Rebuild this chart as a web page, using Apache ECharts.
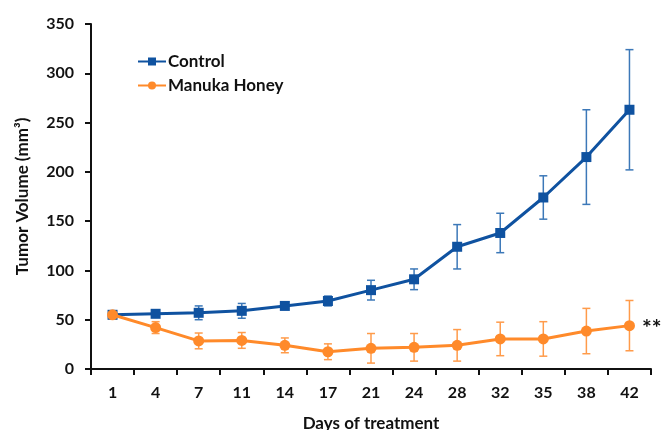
<!DOCTYPE html>
<html>
<head>
<meta charset="utf-8">
<script src="https://cdn.jsdelivr.net/npm/echarts@6/dist/echarts.min.js"></script>
<style>
  html, body { margin: 0; padding: 0; background: #fff; }
  #chart { width: 665px; height: 430px; }
</style>
</head>
<body>
<div id="chart"></div>
<script>
var days = ['1', '4', '7', '11', '14', '17', '21', '24', '28', '32', '35', '38', '42'];
var control = [55, 56, 57, 59, 64, 69, 80, 91, 124, 138, 174, 215, 263];
var control_err = [2, 3, 7, 7.5, 3, 5, 10, 10.5, 22.5, 20, 22, 48, 61];
var manuka = [55, 42, 28.5, 29, 24, 17.5, 21, 22, 24, 30.5, 30.5, 38.5, 44];
var manuka_err = [2, 6, 8, 8, 7.5, 8, 15, 14, 16, 17, 17.5, 23, 25.5];

var blue = '#0F52A0';
var orange = '#FF8A2A';
var font = 'Lato';

function err_data(vals, errs){
  var out = [];
  for(var i=0;i<vals.length;i++){
    out.push([i, vals[i] - errs[i], vals[i] + errs[i]]);
  }
  return out;
}

function err_series(name, vals, errs, color){
  return {
    name: name,
    type: 'custom',
    data: err_data(vals, errs),
    z: 1,
    silent: true,
    renderItem: function(params, api){
      var lo = api.coord([api.value(0), api.value(1)]);
      var hi = api.coord([api.value(0), api.value(2)]);
      var w = 4;
      var st = {stroke: color, lineWidth: 1.5};
      return {
        type: 'group',
        children: [
          {type: 'line', shape: {x1: hi[0], y1: hi[1], x2: lo[0], y2: lo[1]}, style: st},
          {type: 'line', shape: {x1: hi[0]-w, y1: hi[1], x2: hi[0]+w, y2: hi[1]}, style: st},
          {type: 'line', shape: {x1: lo[0]-w, y1: lo[1], x2: lo[0]+w, y2: lo[1]}, style: st}
        ]
      };
    }
  };
}

// last manuka point carries the significance mark
var manuka_data = manuka.slice(0, -1);
manuka_data.push({
  value: manuka[manuka.length-1],
  label: {show: true, formatter: '**', position: 'right', distance: 7,
          color: '#111', fontSize: 23, fontWeight: 'bold', fontFamily: font, offset: [0, 3]}
});

var myChart = echarts.init(document.getElementById('chart'));
option = {
  animation: false,
  textStyle: {fontFamily: font},
  grid: {left: 91, right: 14, top: 24, bottom: 61, outerBoundsMode: 'none'},
  legend: {
    data: ['Control', 'Manuka Honey'],
    orient: 'vertical',
    left: 137,
    top: 53,
    padding: 0,
    itemWidth: 28,
    itemHeight: 10,
    itemGap: 7,
    textStyle: {fontSize: 17, fontWeight: 'bold', color: '#111', fontFamily: font, padding: [0, 0, 0, -3]}
  },
  xAxis: {
    type: 'category',
    data: days,
    boundaryGap: true,
    name: 'Days of treatment',
    nameLocation: 'middle',
    nameGap: 46,
    nameTextStyle: {fontSize: 17, fontWeight: 'bold', color: '#111', fontFamily: font},
    axisLine: {lineStyle: {color: '#111', width: 2}},
    axisTick: {show: true, length: 6, inside: false, lineStyle: {color: '#111', width: 2}},
    axisLabel: {fontSize: 16, fontWeight: 'bold', color: '#111', margin: 16, fontFamily: font},
    splitLine: {show: false}
  },
  yAxis: {
    type: 'value',
    min: 0,
    max: 350,
    interval: 50,
    name: 'Tumor Volume (mm\u00b3)',
    nameLocation: 'middle',
    nameGap: 60,
    nameRotate: 90,
    nameTextStyle: {fontSize: 17, fontWeight: 'bold', color: '#111', fontFamily: font},
    axisLine: {show: true, lineStyle: {color: '#111', width: 2}},
    axisTick: {show: true, length: 6, lineStyle: {color: '#111', width: 2}},
    axisLabel: {fontSize: 16, fontWeight: 'bold', color: '#111', margin: 17, fontFamily: font},
    splitLine: {show: false}
  },
  series: [
    err_series('Control err', control, control_err, '#3C78B8'),
    err_series('Manuka err', manuka, manuka_err, '#FF9B4A'),
    {
      name: 'Control',
      type: 'line',
      data: control,
      symbol: 'rect',
      symbolSize: 10,
      z: 3,
      itemStyle: {color: blue},
      lineStyle: {color: blue, width: 3}
    },
    {
      name: 'Manuka Honey',
      type: 'line',
      data: manuka_data,
      symbol: 'circle',
      symbolSize: 11,
      z: 4,
      itemStyle: {color: orange},
      lineStyle: {color: orange, width: 3}
    }
  ]
};
myChart.setOption(option);
</script>
</body>
</html>
